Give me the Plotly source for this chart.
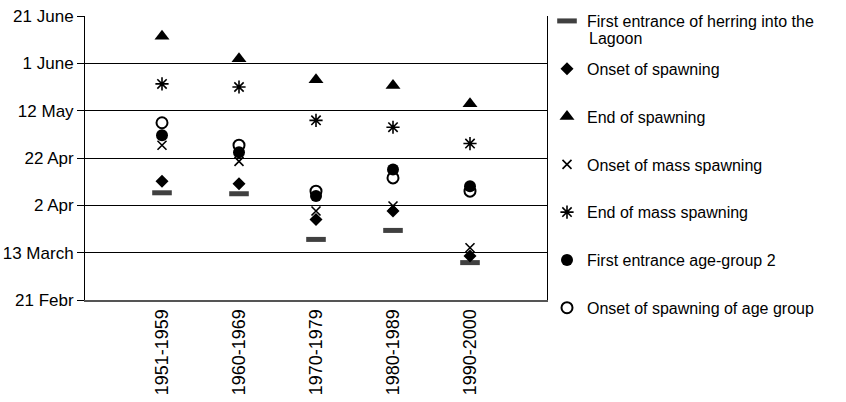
import plotly.graph_objects as go

# Decades of observation
periods = ["1951-1959", "1960-1969", "1970-1979", "1980-1989", "1990-2000"]

# Dates expressed as day of the year (non-leap year, 1 = 1 January)
first_entrance = [97.3, 96.9, 77.6, 81.4, 67.8]
onset_spawning = [102.2, 101.1, 86.0, 89.6, 70.6]
end_spawning = [163.4, 153.9, 145.1, 142.6, 134.9]
onset_mass = [117.4, 110.6, 89.6, 91.7, 74.1]
end_mass = [143.3, 142.0, 127.9, 125.0, 118.1]
entrance_age2 = [121.6, 114.4, 95.9, 107.1, 100.1]
onset_age_group = [126.9, 117.4, 98.0, 103.6, 98.0]

# Y-axis ticks: every 20 days from 21 February to 21 June
tick_days = [52, 72, 92, 112, 132, 152, 172]
tick_text = ["21 Febr", "13 March", "2 Apr", "22 Apr", "12 May", "1 June", "21 June"]

FONT = "Liberation Sans, Arial, sans-serif"
LEGEND_SIZE = 16
W, H = 846, 402

series = [
    ("First entrance of herring into the", first_entrance,
     dict(symbol="line-ew", size=14, color="#404040",
          line=dict(width=5, color="#404040"))),
    ("Onset of spawning", onset_spawning,
     dict(symbol="diamond", size=10, color="black", line=dict(width=0))),
    ("End of spawning", end_spawning,
     dict(symbol="triangle-up", size=13, color="black", line=dict(width=0))),
    ("Onset of mass spawning", onset_mass,
     dict(symbol="x-thin-open", size=9, color="black",
          line=dict(width=1.6, color="black"))),
    ("End of mass spawning", end_mass,
     dict(symbol="asterisk-open", size=11, color="black",
          line=dict(width=1.6, color="black"))),
    ("First entrance age-group 2", entrance_age2,
     dict(symbol="circle", size=12, color="black", line=dict(width=0))),
    ("Onset of spawning of age group", onset_age_group,
     dict(symbol="circle-open", size=11, color="black",
          line=dict(width=2, color="black"))),
]

fig = go.Figure()
for i, (name, vals, marker) in enumerate(series):
    fig.add_trace(go.Scatter(
        x=periods, y=vals, mode="markers", name=name,
        marker=marker, legendgroup=f"g{i}", cliponaxis=False,
    ))

# Continuation line of the first legend entry
fig.add_annotation(
    text="Lagoon", xref="paper", yref="paper", x=1.0866, y=0.9225,
    xanchor="left", yanchor="middle", showarrow=False,
    font=dict(family=FONT, size=LEGEND_SIZE, color="black"),
)

fig.update_layout(
    width=W, height=H,
    margin=dict(l=85, r=299, t=16, b=102),
    paper_bgcolor="white", plot_bgcolor="white",
    font=dict(family=FONT, size=16, color="black"),
    showlegend=True,
    legend=dict(
        xref="container", yref="container",
        x=547 / W, xanchor="left", y=0.99, yanchor="top",
        font=dict(family=FONT, size=LEGEND_SIZE, color="black"),
        traceorder="grouped", tracegroupgap=24, valign="middle",
        itemwidth=30, bgcolor="rgba(0,0,0,0)", maxheight=H,
    ),
)

fig.update_xaxes(
    type="category", categoryorder="array", categoryarray=periods,
    range=[-1, 5], tickangle=-90, showgrid=False, zeroline=False,
    showline=True, linecolor="#555555", linewidth=2, automargin=False,
    ticks="", tickfont=dict(family=FONT, size=18, color="black"),
)

fig.update_yaxes(
    range=[52, 172], tickvals=tick_days, ticktext=tick_text,
    showgrid=True, gridcolor="black", gridwidth=1, zeroline=False,
    showline=True, linecolor="black", linewidth=1, mirror=True,
    ticks="outside", ticklen=7, tickcolor="black", ticklabelstandoff=0,
    automargin=False, tickfont=dict(family=FONT, size=17, color="black"),
)

fig.write_html("out.html")
